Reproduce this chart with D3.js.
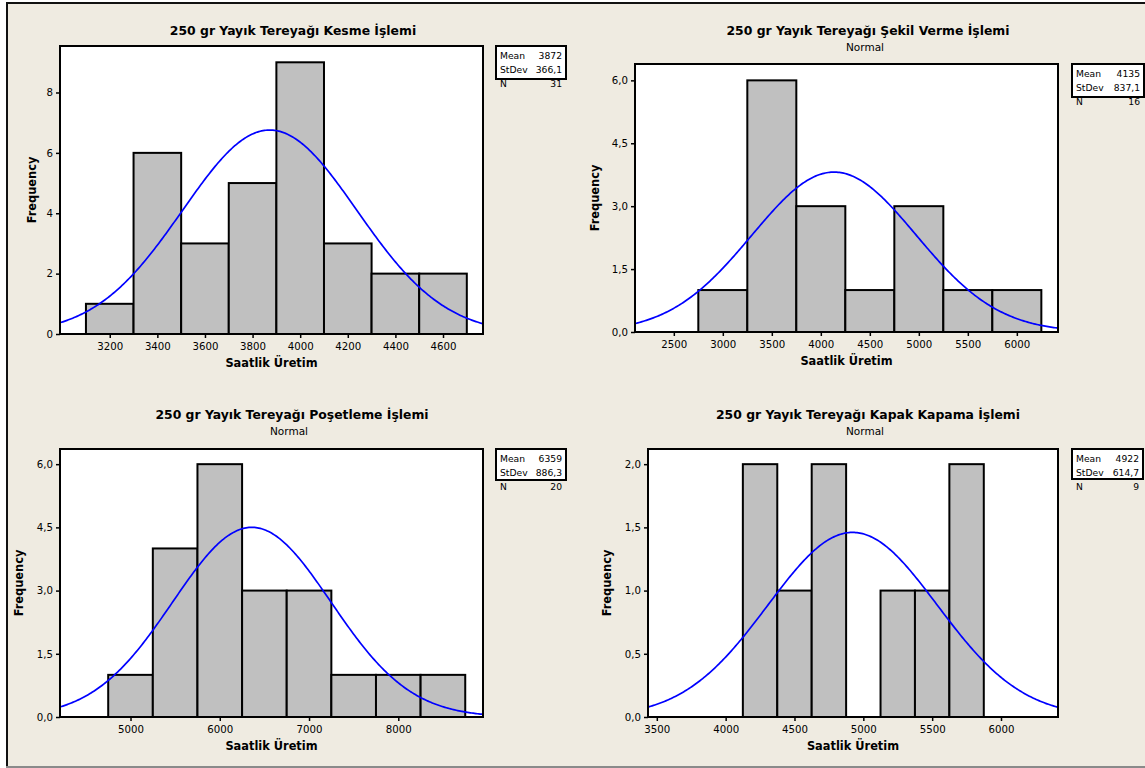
<!DOCTYPE html>
<html>
<head>
<meta charset="utf-8">
<script src="https://cdn.jsdelivr.net/npm/d3@7"></script>
<style>
  html, body { margin: 0; padding: 0; background: #ffffff; }
  svg { display: block; }
  text { font-family: "DejaVu Sans", Verdana, sans-serif; fill: #000; }
</style>
</head>
<body>
<div id="chart"></div>
<script>
// ---- data ----
// 1) Kesme
const kesmeEdges = [3100, 3300, 3500, 3700, 3900, 4100, 4300, 4500, 4700];
const kesmeCounts = [1, 6, 3, 5, 9, 3, 2, 2];
const kesmeStats = [3872, 366.1, 31]; // mean, stdev, N
const kesmeXTicks = [3200, 3400, 3600, 3800, 4000, 4200, 4400, 4600];
const kesmeYTicks = [0, 2, 4, 6, 8];
const kesmeXRange = [2991, 4768];
const kesmeYRange = [0, 9.54];

// 2) Sekil verme
const sekilEdges = [2750, 3250, 3750, 4250, 4750, 5250, 5750, 6250];
const sekilCounts = [1, 6, 3, 1, 3, 1, 1];
const sekilStats = [4135, 837.1, 16];
const sekilXTicks = [2500, 3000, 3500, 4000, 4500, 5000, 5500, 6000];
const sekilYTicks = [0, 1.5, 3, 4.5, 6];
const sekilXRange = [2104, 6420];
const sekilYRange = [0, 6.39];

// 3) Posetleme
const posetEdges = [4750, 5250, 5750, 6250, 6750, 7250, 7750, 8250, 8750];
const posetCounts = [1, 4, 6, 3, 3, 1, 1, 1];
const posetStats = [6359, 886.3, 20];
const posetXTicks = [5000, 6000, 7000, 8000];
const posetYTicks = [0, 1.5, 3, 4.5, 6];
const posetXRange = [4210, 8949];
const posetYRange = [0, 6.36];

// 4) Kapak kapama
const kapakEdges = [4125, 4375, 4625, 4875, 5125, 5375, 5625, 5875];
const kapakCounts = [2, 1, 2, 0, 1, 1, 2];
const kapakStats = [4922, 614.7, 9];
const kapakXTicks = [3500, 4000, 4500, 5000, 5500, 6000];
const kapakYTicks = [0, 0.5, 1, 1.5, 2];
const kapakXRange = [3436, 6414];
const kapakYRange = [0, 2.12];

const titles = [
  '250 gr Yayık Tereyağı Kesme İşlemi',
  '250 gr Yayık Tereyağı Şekil Verme İşlemi',
  '250 gr Yayık Tereyağı Poşetleme İşlemi',
  '250 gr Yayık Tereyağı Kapak Kapama İşlemi'
];
const subtitles = ['', 'Normal', 'Normal', 'Normal'];

// ---- layout (pixel boxes of each panel) ----
const width = 1145, height = 768;
const trLocale = d3.formatLocale({ decimal: ',', thousands: '.', grouping: [3], currency: ['', ''] });
const fmtInt = d3.format('d');
const fmtOne = trLocale.format('.1f');

const panels = [
  { edges: kesmeEdges, counts: kesmeCounts, stats: kesmeStats, xTicks: kesmeXTicks, yTicks: kesmeYTicks,
    xRange: kesmeXRange, yRange: kesmeYRange, yFmt: fmtInt,
    box: { l: 60, r: 483, t: 46, b: 334 }, titleX: 293, titleY: 35, yTitleX: 32,
    legend: { x: 496, y: 46, w: 70, h: 33 } },
  { edges: sekilEdges, counts: sekilCounts, stats: sekilStats, xTicks: sekilXTicks, yTicks: sekilYTicks,
    xRange: sekilXRange, yRange: sekilYRange, yFmt: fmtOne,
    box: { l: 635, r: 1058, t: 64, b: 332 }, titleX: 868, titleY: 35, yTitleX: 595,
    legend: { x: 1072, y: 64, w: 72, h: 33 } },
  { edges: posetEdges, counts: posetCounts, stats: posetStats, xTicks: posetXTicks, yTicks: posetYTicks,
    xRange: posetXRange, yRange: posetYRange, yFmt: fmtOne,
    box: { l: 60, r: 483, t: 449, b: 717 }, titleX: 292, titleY: 419, yTitleX: 19,
    legend: { x: 496, y: 449, w: 70, h: 31 } },
  { edges: kapakEdges, counts: kapakCounts, stats: kapakStats, xTicks: kapakXTicks, yTicks: kapakYTicks,
    xRange: kapakXRange, yRange: kapakYRange, yFmt: fmtOne,
    box: { l: 648, r: 1058, t: 449, b: 717 }, titleX: 868, titleY: 419, yTitleX: 607,
    legend: { x: 1072, y: 449, w: 71, h: 30 } }
];

const svg = d3.select('#chart')
  .append('svg')
  .attr('width', width)
  .attr('height', height);

// beige background with the frame of the original screenshot
svg.append('rect')
  .attr('x', 6).attr('y', 2)
  .attr('width', width - 6).attr('height', height - 3)
  .attr('fill', '#efebe1');
svg.append('line').attr('x1', 6).attr('x2', width).attr('y1', 3).attr('y2', 3)
  .attr('stroke', '#111').attr('stroke-width', 2);
svg.append('line').attr('x1', 7).attr('x2', 7).attr('y1', 2).attr('y2', height - 1)
  .attr('stroke', '#111').attr('stroke-width', 2);
svg.append('line').attr('x1', 6).attr('x2', width).attr('y1', height - 1).attr('y2', height - 1)
  .attr('stroke', '#8a8a8a').attr('stroke-width', 2);

const drawPanel = (p, i) => {
  const { box } = p;
  const [mean, stdev, n] = p.stats;
  const g = svg.append('g');

  const xScale = d3.scaleLinear().domain(p.xRange).range([box.l, box.r]);
  const yScale = d3.scaleLinear().domain(p.yRange).range([box.b, box.t]);

  // titles
  g.append('text')
    .attr('x', p.titleX).attr('y', p.titleY)
    .attr('text-anchor', 'middle')
    .style('font-size', '12.4px').style('font-weight', 'bold')
    .text(titles[i]);
  if (subtitles[i]) {
    g.append('text')
      .attr('x', p.titleX - 3).attr('y', p.titleY + 16)
      .attr('text-anchor', 'middle')
      .style('font-size', '10.5px')
      .text(subtitles[i]);
  }

  // plot area
  g.append('rect')
    .attr('x', box.l).attr('y', box.t)
    .attr('width', box.r - box.l).attr('height', box.b - box.t)
    .attr('fill', '#ffffff');

  const clipId = 'clip' + i;
  svg.append('clipPath').attr('id', clipId)
    .append('rect')
    .attr('x', box.l).attr('y', box.t)
    .attr('width', box.r - box.l).attr('height', box.b - box.t);

  // histogram bars
  const bins = p.counts.map((c, k) => ({ x0: p.edges[k], x1: p.edges[k + 1], count: c }));
  g.selectAll('rect.bar')
    .data(bins.filter(d => d.count > 0))
    .enter()
    .append('rect')
    .attr('class', 'bar')
    .attr('x', d => xScale(d.x0))
    .attr('y', d => yScale(d.count))
    .attr('width', d => xScale(d.x1) - xScale(d.x0))
    .attr('height', d => yScale(0) - yScale(d.count))
    .attr('fill', '#c0c0c0')
    .attr('stroke', '#000')
    .attr('stroke-width', 2);

  // fitted normal curve from mean / stdev / N
  const binWidth = p.edges[1] - p.edges[0];
  const fit = x => n * binWidth * Math.exp(-0.5 * ((x - mean) / stdev) ** 2) / (stdev * Math.sqrt(2 * Math.PI));
  const xs = d3.range(p.xRange[0], p.xRange[1], (p.xRange[1] - p.xRange[0]) / 300).concat([p.xRange[1]]);
  const line = d3.line().x(d => xScale(d)).y(d => yScale(fit(d)));
  g.append('path')
    .datum(xs)
    .attr('clip-path', `url(#${clipId})`)
    .attr('fill', 'none')
    .attr('stroke', '#0000ff')
    .attr('stroke-width', 1.7)
    .attr('d', line);

  // frame
  g.append('rect')
    .attr('x', box.l).attr('y', box.t)
    .attr('width', box.r - box.l).attr('height', box.b - box.t)
    .attr('fill', 'none')
    .attr('stroke', '#000')
    .attr('stroke-width', 2);

  // axes
  const xAxis = g.append('g')
    .attr('transform', `translate(0, ${box.b})`)
    .call(d3.axisBottom(xScale).tickValues(p.xTicks).tickSize(4).tickPadding(5).tickFormat(fmtInt));
  const yAxis = g.append('g')
    .attr('transform', `translate(${box.l}, 0)`)
    .call(d3.axisLeft(yScale).tickValues(p.yTicks).tickSize(4).tickPadding(3).tickFormat(p.yFmt));
  [xAxis, yAxis].forEach(ax => {
    ax.select('.domain').remove();
    ax.selectAll('line').attr('stroke', '#000').attr('stroke-width', 1.5);
    ax.selectAll('text').style('font-size', '10.2px').style('font-family', '"DejaVu Sans", Verdana, sans-serif');
  });

  g.append('text')
    .attr('x', (box.l + box.r) / 2).attr('y', box.b + 33)
    .attr('text-anchor', 'middle')
    .style('font-size', '11.4px').style('font-weight', 'bold')
    .text('Saatlik Üretim');
  g.append('text')
    .attr('transform', `translate(${p.yTitleX + 4}, ${(box.t + box.b) / 2}) rotate(-90)`)
    .attr('text-anchor', 'middle')
    .style('font-size', '11.4px').style('font-weight', 'bold')
    .text('Frequency');

  // stats legend
  const lg = p.legend;
  g.append('rect')
    .attr('x', lg.x).attr('y', lg.y)
    .attr('width', lg.w).attr('height', lg.h)
    .attr('fill', '#ffffff')
    .attr('stroke', '#000')
    .attr('stroke-width', 2);
  const rows = [['Mean', fmtInt(mean)], ['StDev', fmtOne(stdev)], ['N', fmtInt(n)]];
  rows.forEach((r, k) => {
    const y = lg.y + 13 + k * 13.8;
    g.append('text').attr('x', lg.x + 4).attr('y', y)
      .style('font-size', '9.2px').text(r[0]);
    g.append('text').attr('x', lg.x + lg.w - 4).attr('y', y)
      .attr('text-anchor', 'end')
      .style('font-size', '9.2px').text(r[1]);
  });
};

panels.forEach(drawPanel);
</script>
</body>
</html>
